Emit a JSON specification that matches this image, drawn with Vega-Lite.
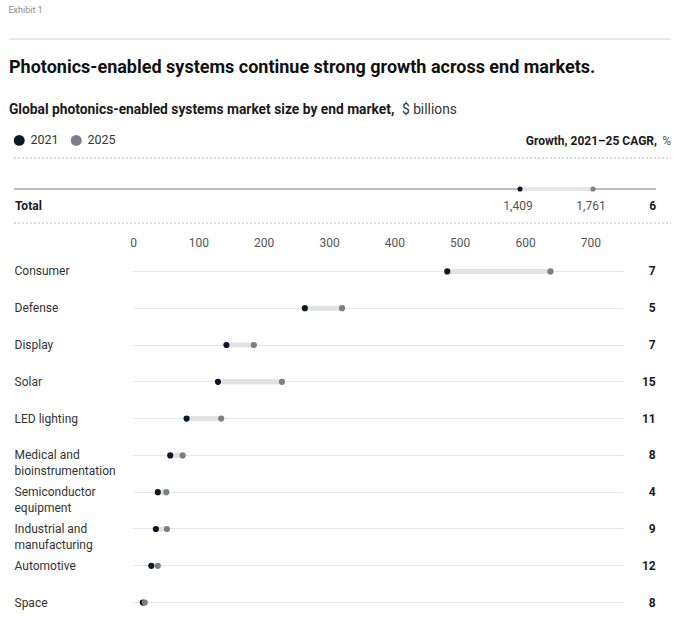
{
  "$schema": "https://vega.github.io/schema/vega-lite/v6.json",
  "background": "white",
  "padding": {"left": 8, "top": 5, "right": 0, "bottom": 0},
  "config": {"font": "Roboto", "view": {"stroke": null}},
  "title": {"text": "Exhibit 1", "anchor": "start", "fontSize": 9, "fontWeight": "normal", "color": "#8a8a8a", "offset": 24},
  "datasets": {
    "total": [{"label": "Total", "2021": 1409, "2025": 1761, "cagr": 6}],
    "markets": [
      {"market": "Consumer", "2021": 481, "2025": 639, "cagr": 7},
      {"market": "Defense", "2021": 263, "2025": 320, "cagr": 5},
      {"market": "Display", "2021": 143, "2025": 185, "cagr": 7},
      {"market": "Solar", "2021": 130, "2025": 228, "cagr": 15},
      {"market": "LED lighting", "2021": 82, "2025": 135, "cagr": 11},
      {"market": "Medical and bioinstrumentation", "2021": 57, "2025": 76, "cagr": 8},
      {"market": "Semiconductor equipment", "2021": 38, "2025": 51, "cagr": 4},
      {"market": "Industrial and manufacturing", "2021": 35, "2025": 52, "cagr": 9},
      {"market": "Automotive", "2021": 28, "2025": 38, "cagr": 12},
      {"market": "Space", "2021": 15, "2025": 18, "cagr": 8}
    ]
  },
  "spacing": 12,
  "resolve": {"scale": {"color": "independent", "x": "independent", "y": "independent"}},
  "vconcat": [
    {
      "data": {"values": [{}]},
      "width": 538,
      "height": 8,
      "mark": {"type": "rule", "color": "#cfcfcf", "strokeWidth": 1},
      "encoding": {
        "x": {"datum": -1055, "type": "quantitative", "scale": {"domain": [-457, 2137]}, "axis": null},
        "x2": {"datum": 2137},
        "y": {"datum": 1, "type": "quantitative", "scale": {"domain": [0, 1]}, "axis": null}
      }
    },
    {
      "data": {"name": "total"},
      "width": 538,
      "height": 128,
      "title": {"text": "Photonics-enabled systems continue strong growth across end markets.", "anchor": "start", "frame": "group", "fontSize": 18, "fontWeight": "bold", "color": "#111111", "dx": -124, "offset": 18},
      "layer": [
        {
          "mark": {"type": "text", "align": "left", "baseline": "middle", "fontSize": 13.8, "fontWeight": "bold", "color": "#1a1a1a", "dx": -5, "text": "Global photonics-enabled systems market size by end market,"},
          "encoding": {
            "x": {"datum": -1031, "type": "quantitative", "scale": {"domain": [-457, 2137]}, "axis": null},
            "y": {"datum": 15, "type": "quantitative", "scale": {"domain": [0, 128], "reverse": true}, "axis": null}
          }
        },
        {
          "mark": {"type": "text", "align": "left", "baseline": "middle", "fontSize": 13.8, "fontWeight": "normal", "color": "#333333", "dx": 388, "text": "$ billions"},
          "encoding": {
            "x": {"datum": -1031, "type": "quantitative", "scale": {"domain": [-457, 2137]}, "axis": null},
            "y": {"datum": 15, "type": "quantitative", "scale": {"domain": [0, 128], "reverse": true}, "axis": null}
          }
        },
        {
          "mark": {"type": "text", "align": "right", "baseline": "middle", "fontSize": 12, "fontWeight": "bold", "color": "#1a1a1a", "dx": -14, "text": "Growth, 2021–25 CAGR,"},
          "encoding": {
            "x": {"datum": 2137, "type": "quantitative", "scale": {"domain": [-457, 2137]}, "axis": null},
            "y": {"datum": 46, "type": "quantitative", "scale": {"domain": [0, 128], "reverse": true}, "axis": null}
          }
        },
        {
          "mark": {"type": "text", "align": "right", "baseline": "middle", "fontSize": 12, "fontWeight": "normal", "color": "#555555", "text": "%"},
          "encoding": {
            "x": {"datum": 2137, "type": "quantitative", "scale": {"domain": [-457, 2137]}, "axis": null},
            "y": {"datum": 46, "type": "quantitative", "scale": {"domain": [0, 128], "reverse": true}, "axis": null}
          }
        },
        {
          "mark": {"type": "rule", "color": "#b8b8b8", "strokeDash": [2, 2], "strokeWidth": 1},
          "encoding": {
            "x": {"datum": -1031, "type": "quantitative", "scale": {"domain": [-457, 2137]}, "axis": null},
            "x2": {"datum": 2137},
            "y": {"datum": 63, "type": "quantitative", "scale": {"domain": [0, 128], "reverse": true}, "axis": null}
          }
        },
        {
          "mark": {"type": "rule", "color": "#b8b8b8", "strokeDash": [2, 2], "strokeWidth": 1},
          "encoding": {
            "x": {"datum": -1031, "type": "quantitative", "scale": {"domain": [-457, 2137]}, "axis": null},
            "x2": {"datum": 2137},
            "y": {"datum": 128, "type": "quantitative", "scale": {"domain": [0, 128], "reverse": true}, "axis": null}
          }
        },
        {
          "mark": {"type": "rule", "color": "#7a7a7a", "strokeWidth": 1},
          "encoding": {
            "x": {"datum": -1031, "type": "quantitative", "scale": {"domain": [-457, 2137]}, "axis": null},
            "x2": {"datum": 2065},
            "y": {"datum": 94, "type": "quantitative", "scale": {"domain": [0, 128], "reverse": true}, "axis": null}
          }
        },
        {
          "mark": {"type": "rule", "color": "#e6e6e6", "strokeWidth": 4},
          "encoding": {
            "x": {"field": "2021", "type": "quantitative", "scale": {"domain": [-457, 2137]}, "axis": null},
            "x2": {"field": "2025"},
            "y": {"datum": 94, "type": "quantitative", "scale": {"domain": [0, 128], "reverse": true}, "axis": null}
          }
        },
        {
          "transform": [{"fold": ["2021", "2025"], "as": ["year", "value"]}],
          "mark": {"type": "circle", "size": 26, "opacity": 1},
          "encoding": {
            "x": {"field": "value", "type": "quantitative", "scale": {"domain": [-457, 2137]}, "axis": null},
            "y": {"datum": 94, "type": "quantitative", "scale": {"domain": [0, 128], "reverse": true}, "axis": null},
            "color": {
              "field": "year", "type": "nominal",
              "scale": {"domain": ["2021", "2025"], "range": ["#0a1a29", "#7a8087"]},
              "legend": {"orient": "none", "legendX": -120, "legendY": 39, "direction": "horizontal", "title": null, "symbolType": "circle", "symbolSize": 120, "symbolStrokeWidth": 0, "labelFontSize": 12.5, "labelColor": "#333333", "labelOffset": 5, "columnPadding": 11, "padding": 0}
            }
          }
        },
        {
          "transform": [{"fold": ["2021", "2025"], "as": ["year", "value"]}],
          "mark": {"type": "text", "align": "center", "baseline": "middle", "fontSize": 12, "color": "#555555", "dx": -2},
          "encoding": {
            "x": {"field": "value", "type": "quantitative", "scale": {"domain": [-457, 2137]}, "axis": null},
            "y": {"datum": 111, "type": "quantitative", "scale": {"domain": [0, 128], "reverse": true}, "axis": null},
            "text": {"field": "value", "type": "quantitative", "format": ","}
          }
        },
        {
          "mark": {"type": "text", "align": "left", "baseline": "middle", "fontSize": 12, "fontWeight": "bold", "color": "#1a1a1a", "dx": 1},
          "encoding": {
            "x": {"datum": -1031, "type": "quantitative", "scale": {"domain": [-457, 2137]}, "axis": null},
            "y": {"datum": 111, "type": "quantitative", "scale": {"domain": [0, 128], "reverse": true}, "axis": null},
            "text": {"field": "label"}
          }
        },
        {
          "mark": {"type": "text", "align": "right", "baseline": "middle", "fontSize": 12, "fontWeight": "bold", "color": "#1a1a1a"},
          "encoding": {
            "x": {"datum": 2065, "type": "quantitative", "scale": {"domain": [-457, 2137]}, "axis": null},
            "y": {"datum": 111, "type": "quantitative", "scale": {"domain": [0, 128], "reverse": true}, "axis": null},
            "text": {"field": "cagr", "type": "quantitative"}
          }
        }
      ]
    },
    {
      "data": {"name": "markets"},
      "width": 490,
      "height": {"step": 36.8},
      "encoding": {
        "y": {
          "field": "market", "type": "nominal", "sort": null,
          "scale": {"paddingInner": 0, "paddingOuter": 0},
          "axis": {
            "title": null, "orient": "left", "labelAlign": "left", "labelPadding": 119, "ticks": false, "tickSize": 0, "domain": false,
            "grid": true, "gridColor": "#e6e6e6", "bandPosition": 0.5, "labelFontSize": 12, "labelColor": "#333333", "labelLineHeight": 16, "labelBaseline": "middle",
            "labelExpr": "datum.label == 'Medical and bioinstrumentation' ? ['Medical and', 'bioinstrumentation'] : datum.label == 'Semiconductor equipment' ? ['Semiconductor', 'equipment'] : datum.label == 'Industrial and manufacturing' ? ['Industrial and', 'manufacturing'] : datum.label"
          }
        }
      },
      "layer": [
        {
          "mark": {"type": "rule", "color": "#e2e2e2", "strokeWidth": 5},
          "encoding": {
            "x": {"field": "2021", "type": "quantitative", "title": null, "scale": {"domain": [0, 750]},
              "axis": {"orient": "top", "title": null, "values": [0, 100, 200, 300, 400, 500, 600, 700], "domain": false, "ticks": false, "tickSize": 0, "labelPadding": 4, "labelFontSize": 12, "labelColor": "#555555", "grid": false, "labelFlush": false}},
            "x2": {"field": "2025"}
          }
        },
        {
          "transform": [{"fold": ["2021", "2025"], "as": ["year", "value"]}],
          "mark": {"type": "circle", "size": 38, "opacity": 1},
          "encoding": {
            "x": {"field": "value", "type": "quantitative", "title": null, "scale": {"domain": [0, 750]}},
            "color": {"field": "year", "type": "nominal", "scale": {"domain": ["2021", "2025"], "range": ["#0a1a29", "#7a8087"]}, "legend": null}
          }
        },
        {
          "mark": {"type": "text", "align": "right", "baseline": "middle", "fontSize": 12, "fontWeight": "bold", "color": "#1a1a1a"},
          "encoding": {
            "x": {"datum": 800, "type": "quantitative", "title": null, "scale": {"domain": [0, 750]}},
            "text": {"field": "cagr", "type": "quantitative"}
          }
        }
      ]
    }
  ]
}
